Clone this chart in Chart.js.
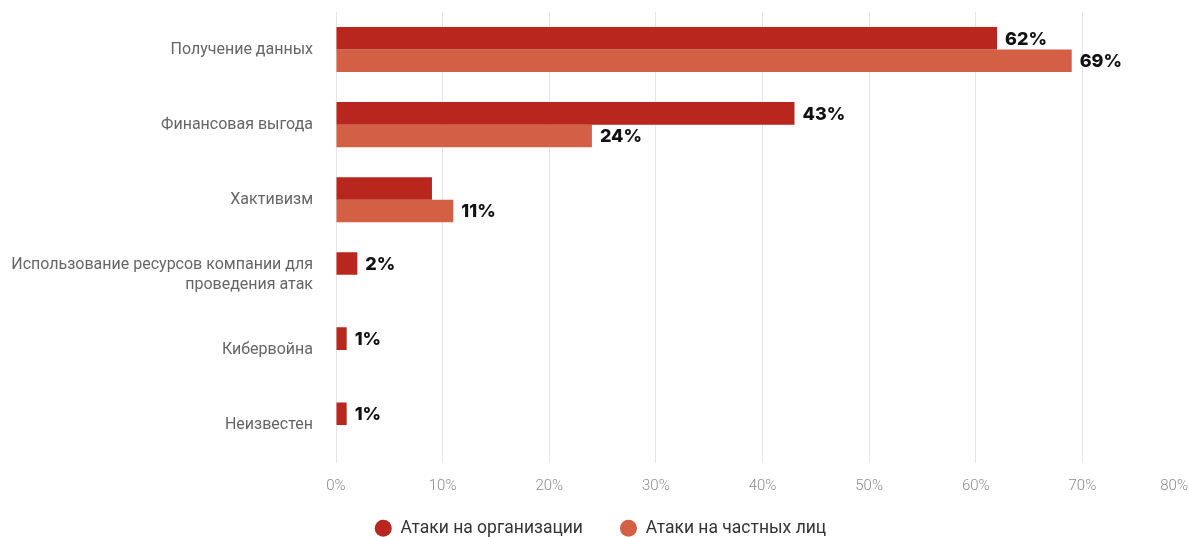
<!DOCTYPE html>
<html>
<head>
<meta charset="utf-8">
<script src="https://cdn.jsdelivr.net/npm/chart.js@4.4.1/dist/chart.umd.min.js"></script>
<style>
  html, body { margin: 0; padding: 0; background: #ffffff; }
  #wrap { width: 1189px; height: 537px; position: relative; }
</style>
</head>
<body>
<div id="wrap"><canvas id="c"></canvas></div>
<script>
const categories = [
  'Получение данных',
  'Финансовая выгода',
  'Хактивизм',
  ['Использование ресурсов компании для', 'проведения атак'],
  'Кибервойна',
  'Неизвестен'
];
const orgValues = [62, 43, 9, 2, 1, 1];
const personValues = [69, 24, 11, null, null, null];
const seriesNames = ['Атаки на организации', 'Атаки на частных лиц'];
const hiddenOrgLabels = ['Хактивизм'];
const xTickMax = 80;
const xTickStep = 10;

const valueLabels = {
  id: 'valueLabels',
  afterDatasetsDraw(chart) {
    const ctx = chart.ctx;
    ctx.save();
    ctx.font = '800 18px Inter, "Open Sans", sans-serif';
    ctx.fillStyle = '#111111';
    ctx.textAlign = 'left';
    ctx.textBaseline = 'middle';
    chart.data.datasets.forEach((ds, di) => {
      const meta = chart.getDatasetMeta(di);
      meta.data.forEach((bar, i) => {
        const v = ds.data[i];
        if (v === null || v === undefined) return;
        if (di === 0 && hiddenOrgLabels.includes(categories[i])) return;
        ctx.fillText(v + '%', bar.x + 8, bar.y + 1);
      });
    });
    ctx.restore();
  }
};

const lastTickFit = {
  id: 'lastTickFit',
  beforeDraw(chart) {
    const sc = chart.scales.x;
    const items = sc.getLabelItems();
    if (!items.length) return;
    const last = items[items.length - 1];
    last.options.textAlign = 'right';
    last.options.translation[0] = chart.width - 1;
  }
};

new Chart(document.getElementById('c'), {
  type: 'bar',
  data: {
    labels: categories,
    datasets: [
      { label: seriesNames[0], data: orgValues, backgroundColor: '#B8261D', borderWidth: 0 },
      { label: seriesNames[1], data: personValues, backgroundColor: '#D35F45', borderWidth: 0 }
    ]
  },
  options: {
    indexAxis: 'y',
    responsive: true,
    maintainAspectRatio: false,
    animation: false,
    categoryPercentage: 0.6,
    barPercentage: 1.0,
    layout: { padding: { top: 12, left: 12, right: 0, bottom: -10 } },
    scales: {
      x: {
        min: 0,
        max: xTickMax,
        grid: { color: '#e6e6e6', lineWidth: 1, drawTicks: false },
        border: { display: false },
        ticks: {
          stepSize: xTickStep,
          padding: 15,
          color: '#8c8c8c',
          font: { family: 'Roboto, "Liberation Sans", sans-serif', size: 15, weight: 300 },
          callback: v => v + '%'
        },
        afterFit(s) {
          s.height = 20; s.paddingLeft = 0; s.paddingRight = 0;
          s._computeLabelArea = () => null;
        }
      },
      y: {
        grid: { display: false, drawTicks: false },
        border: { display: false },
        ticks: {
          padding: 23,
          color: '#666666',
          font: { family: 'Roboto, "Liberation Sans", sans-serif', size: 16, lineHeight: 1.25 }
        },
        afterFit(s) { s.width = 324; s.paddingTop = 0; s.paddingBottom = 0; }
      }
    },
    plugins: {
      legend: {
        position: 'bottom',
        labels: {
          usePointStyle: true,
          pointStyle: 'circle',
          boxHeight: 12,
          pointStyleWidth: 17,
          padding: 37,
          color: '#333333',
          font: { family: 'Roboto, "Liberation Sans", sans-serif', size: 17.5 }
        }
      },
      tooltip: { enabled: false }
    }
  },
  plugins: [valueLabels, lastTickFit]
});
</script>
</body>
</html>
